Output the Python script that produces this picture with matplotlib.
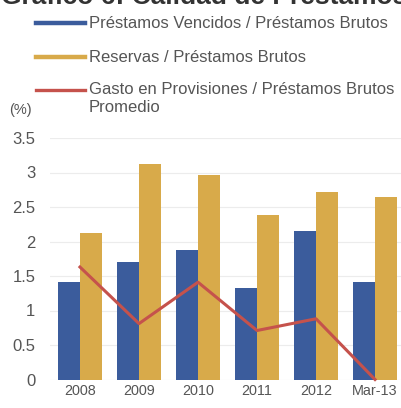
import matplotlib
matplotlib.use('Agg')
import matplotlib.pyplot as plt
import numpy as np
from matplotlib.lines import Line2D

# data
years    = ['2008', '2009', '2010', '2011', '2012', 'Mar-13']
vencidos = [1.41, 1.71, 1.87, 1.32, 2.15, 1.41]   # Préstamos Vencidos / Préstamos Brutos
reservas = [2.12, 3.12, 2.97, 2.38, 2.72, 2.65]   # Reservas / Préstamos Brutos
gasto    = [1.63, 0.81, 1.41, 0.71, 0.88, 0.0]    # Gasto en Provisiones / Préstamos Brutos Promedio
yticks   = [0, 0.5, 1, 1.5, 2, 2.5, 3, 3.5]

c_blue = '#3b5c9c'
c_gold = '#d8aa4a'
c_red  = '#c5524c'
c_text = '#555555'

plt.rcParams['font.family'] = ['Liberation Sans', 'DejaVu Sans']

W, H = 401, 408
fig = plt.figure(figsize=(W/100, H/100), dpi=100)

def fx(px):
    return px / W

def fy(py):
    return 1 - py / H

ax = fig.add_axes([fx(50), fy(379.5), 1 - fx(50), fy(138) - fy(379.5)])

x = np.arange(len(years))
bw = 0.375
ax.bar(x - bw/2, vencidos, bw, color=c_blue, zorder=2)
ax.bar(x + bw/2, reservas, bw, color=c_gold, zorder=2)
ax.plot(x, gasto, color=c_red, lw=2.2, zorder=3, clip_on=False)

ax.set_xlim(-0.508, 5.44)
ax.set_ylim(0, 3.5)
ax.set_yticks(yticks)
ax.set_yticklabels([('%g' % v) for v in yticks])
ax.set_xticks(x)
ax.set_xticklabels(years)
ax.tick_params(axis='both', length=0, colors=c_text)
ax.tick_params(axis='y', pad=10.5, labelsize=12)
ax.tick_params(axis='x', pad=3.5, labelsize=10.4)
for s in ax.spines.values():
    s.set_visible(False)
ax.yaxis.grid(True, color='#ececec', lw=0.8, zorder=0)
ax.set_axisbelow(True)

# title, mostly cut off at the top edge in the reference
fig.text(fx(1), fy(3.5), 'Gráfico 6: Calidad de Préstamos', fontsize=19,
         fontweight='bold', color='#333333', ha='left', va='baseline')

# legend drawn by hand so the red line lines up with the first text line
rows = [(23, c_blue, 'Préstamos Vencidos / Préstamos Brutos'),
        (57, c_gold, 'Reservas / Préstamos Brutos'),
        (90, c_red, 'Gasto en Provisiones / Préstamos Brutos')]
for py, col, lab in rows:
    fig.add_artist(Line2D([fx(36), fx(85)], [fy(py), fy(py)], color=col,
                          lw=3.2 if col != c_red else 2.4,
                          transform=fig.transFigure))
    fig.text(fx(89), fy(py), lab, fontsize=12, color=c_text,
             ha='left', va='center')
fig.text(fx(89), fy(108), 'Promedio', fontsize=12, color=c_text,
         ha='left', va='center')
fig.text(fx(9), fy(110), '(%)', fontsize=10.5, color=c_text,
         ha='left', va='center')

fig.savefig('out.png', dpi=100)
